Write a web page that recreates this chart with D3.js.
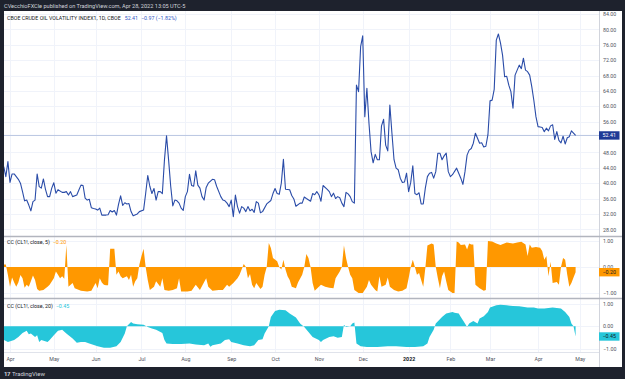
<!DOCTYPE html>
<html>
<head>
<meta charset="utf-8">
<script src="https://cdn.jsdelivr.net/npm/d3@7"></script>
<style>
  html, body { margin: 0; padding: 0; background: #1e222d; }
  svg { display: block; font-family: Roboto, "DejaVu Sans", sans-serif; }
</style>
</head>
<body>
<svg id="chart" width="625" height="379"></svg>
<script>
// trading day (0 = Apr 1 2021), close
const ovxSeries = [
  [-3,44.3],[-2,41.7],[-1,45.6],[0,40.2],[1,42.4],[2,42.4],[4,41.0],[5,40.0],[6,37.8],[7,35.4],
  [8,35.6],[9,34.3],[10,32.8],[11,35.2],[12,35.6],[13,42.4],[14,39.1],[15,38.7],[16,41.1],[17,38.4],
  [18,36.5],[19,36.5],[20,38.7],[21,40.1],[22,37.4],[23,38.3],[25,37.6],[26,37.6],[27,37.8],[28,36.9],
  [29,37.8],[30,36.5],[32,36.9],[33,38.2],[34,39.5],[35,39.4],[36,36.1],[37,35.6],[38,35.8],[39,33.6],
  [40,33.4],[41,33.3],[42,33.0],[43,33.5],[44,31.7],[46,31.7],[47,31.8],[48,32.9],[49,32.5],[50,32.9],
  [51,31.7],[52,34.5],[53,36.7],[54,34.2],[55,34.9],[56,34.6],[57,34.7],[58,32.6],[59,31.5],[61,32.0],
  [62,32.6],[64,33.0],[65,37.3],[66,42.0],[67,39.2],[68,37.3],[69,38.6],[70,35.6],[71,37.8],[72,37.8],
  [73,37.3],[74,46.0],[75,52.3],[76,46.0],[77,39.2],[78,34.1],[79,35.6],[80,35.4],[81,34.8],[82,33.5],
  [83,32.9],[84,36.5],[85,37.8],[86,42.3],[87,39.4],[88,39.2],[89,43.2],[90,39.5],[91,38.7],[92,36.5],
  [93,35.6],[94,38.9],[95,40.0],[97,41.0],[98,40.9],[99,39.2],[101,36.5],[102,35.6],[103,35.4],[104,34.8],
  [105,33.9],[106,35.6],[107,31.3],[108,36.9],[109,33.9],[110,32.2],[111,33.9],[112,33.5],[113,32.6],[114,33.9],
  [115,32.8],[116,33.2],[117,32.4],[118,35.2],[119,34.8],[120,32.3],[121,32.6],[123,34.6],[125,35.5],[126,37.3],
  [127,38.6],[128,37.3],[129,37.1],[130,40.0],[131,46.2],[132,38.4],[134,38.3],[135,36.8],[136,35.9],[137,34.0],
  [139,34.8],[140,34.8],[141,36.4],[142,36.0],[144,35.3],[145,37.3],[146,37.0],[147,37.8],[148,37.0],[149,35.3],
  [150,39.4],[152,38.4],[153,37.8],[154,36.5],[155,37.4],[156,36.0],[157,36.5],[158,36.2],[159,34.8],[160,33.9],
  [161,37.6],[162,37.2],[163,36.5],[164,35.2],[165,34.8],[166,65.5],[167,63.8],[168,75.5],[169,78.3],[170,57.3],
  [171,64.7],[172,55.6],[173,48.2],[174,45.3],[175,47.5],[176,46.1],[177,46.1],[178,54.9],[179,56.6],[180,49.9],
  [181,48.4],[182,60.3],[183,53.0],[184,46.1],[185,43.9],[186,43.5],[187,41.3],[188,40.2],[189,40.3],[190,42.6],
  [191,37.8],[192,40.2],[193,44.5],[194,37.3],[195,37.0],[196,37.5],[197,34.6],[198,34.6],[199,38.7],[200,41.7],
  [201,42.6],[202,42.8],[203,41.3],[204,43.0],[205,47.8],[206,47.8],[207,46.1],[208,47.1],[209,47.8],[210,43.0],
  [211,41.7],[212,42.2],[214,43.9],[215,42.6],[216,41.3],[217,39.7],[218,43.0],[219,47.3],[220,48.6],[221,49.0],
  [222,50.4],[223,53.0],[224,51.7],[225,50.4],[226,50.5],[227,49.4],[228,49.6],[229,52.6],[230,61.4],[231,61.6],
  [232,64.4],[233,77.2],[234,78.8],[235,76.5],[236,73.3],[237,67.7],[238,67.8],[239,65.5],[240,63.8],[241,59.5],
  [242,68.1],[243,69.4],[244,70.7],[245,69.8],[246,72.5],[247,69.4],[248,69.0],[249,68.1],[250,65.1],[251,61.5],
  [252,57.3],[253,54.7],[254,54.6],[255,54.5],[256,53.4],[257,54.3],[258,53.6],[259,54.9],[260,55.2],[261,51.4],
  [262,53.4],[263,51.1],[264,50.5],[265,52.2],[266,50.2],[267,51.8],[268,52.1],[269,53.6],[270,53.0],[271,52.41]
];

const cc5Series = [
  [-3,0.1],[-2,0.1],[-1,-0.31],[0,-0.76],[1,-0.4],[2,-0.6],[3,-0.76],[4,-0.6],[5,-0.31],[6,-0.43],
  [7,-0.8],[8,-0.68],[9,-0.76],[10,-0.55],[11,-0.33],[12,-0.5],[13,-0.85],[14,-0.91],[16,-0.88],[18,-0.76],
  [19,-0.68],[21,-0.43],[22,-0.17],[23,-0.3],[24,-0.43],[25,-0.36],[26,-0.45],[27,0.85],[28,-0.76],[30,-0.62],
  [31,-0.82],[34,-0.91],[37,-0.94],[39,-0.91],[41,-0.62],[42,-0.82],[43,-0.43],[44,-0.6],[45,-0.68],[46,-0.7],
  [47,-0.7],[48,0.7],[50,0.7],[51,-0.3],[52,-0.17],[53,-0.36],[54,-0.43],[56,-0.36],[57,-0.5],[58,-0.3],
  [59,-0.76],[60,-0.55],[61,-0.43],[62,0.1],[63,0.42],[64,0.7],[65,0],[66,-0.5],[67,-0.88],[69,-0.76],
  [70,-0.55],[72,-0.76],[73,-0.43],[74,-0.88],[76,-0.91],[78,-0.88],[80,-0.82],[81,-0.43],[82,-0.94],[85,-0.94],
  [87,-0.91],[89,-0.68],[91,-0.88],[94,-0.43],[95,-0.76],[97,-0.91],[100,-0.88],[102,-0.88],[104,-0.68],[105,-0.76],
  [107,-0.62],[109,-0.43],[110,-0.3],[112,0.12],[113,0],[114,-0.43],[115,-0.27],[116,-0.68],[117,-0.82],[118,-0.62],
  [120,-0.85],[121,-0.76],[122,-0.3],[123,0],[124,0.92],[125,0.73],[126,0.35],[128,0.22],[129,0],[130,-0.1],
  [131,0.28],[132,-0.1],[133,-0.36],[134,-0.5],[135,-0.76],[137,-0.82],[138,-0.6],[140,-0.3],[141,0],[142,0.5],
  [143,0.35],[144,0],[145,-0.62],[146,-0.91],[148,-0.76],[149,-0.68],[151,-0.76],[153,-0.8],[155,-0.82],[156,-0.43],
  [158,-0.17],[159,0],[160,0.83],[161,0.35],[162,0],[163,-0.3],[164,-0.43],[165,-0.88],[167,-1.0],[169,-1.0],
  [171,-0.76],[172,-0.5],[173,-0.68],[175,-0.88],[176,-0.94],[177,-0.36],[178,-0.76],[180,-0.68],[181,-0.4],[182,-0.76],
  [184,-0.88],[186,-0.94],[188,-0.91],[190,-0.82],[191,-0.43],[192,0],[193,0.28],[194,0],[195,-0.3],[196,-0.23],
  [197,-0.5],[198,-0.76],[199,-0.04],[200,0.83],[202,0.9],[203,0.87],[204,0],[205,-0.43],[206,-0.82],[207,-0.36],
  [208,-0.17],[209,-0.55],[210,-0.88],[212,-1.0],[213,-1.0],[214,0.98],[215,0.94],[216,0.85],[218,0.87],[219,0.67],
  [220,0.9],[221,0.87],[222,0.87],[223,-0.68],[225,-0.82],[227,-0.91],[228,-0.88],[229,1.0],[231,0.98],[233,0.9],
  [235,0.85],[238,0.94],[241,0.9],[243,0.94],[245,0.97],[247,0.87],[248,0.42],[249,0.87],[250,0.74],[252,0.77],
  [254,0.74],[255,0.62],[256,0.28],[257,0.42],[258,-0.36],[259,0.2],[260,-0.62],[262,-0.58],[263,-0.68],[264,0],
  [265,0.35],[266,0.28],[267,-0.3],[268,-0.76],[269,-0.62],[270,-0.4],[271,-0.2]
];

const cc20Series = [
  [-3,-0.6],[-1,-0.69],[2,-0.6],[4,-0.47],[6,-0.3],[8,-0.2],[9,-0.35],[10,-0.32],[12,-0.47],[13,-0.4],
  [14,-0.69],[15,-0.6],[18,-0.69],[19,-0.6],[21,-0.4],[23,-0.2],[25,-0.15],[27,-0.32],[30,-0.54],[32,-0.73],
  [34,-0.69],[36,-0.69],[38,-0.76],[42,-0.88],[45,-0.94],[48,-0.94],[51,-0.88],[53,-0.69],[55,-0.32],[56,0],
  [58,0.19],[59,0.12],[61,0.09],[64,0.07],[66,-0.03],[68,-0.1],[70,-0.15],[73,-0.3],[74,-0.6],[75,-0.76],
  [78,-0.78],[82,-0.78],[86,-0.76],[89,-0.8],[93,-0.83],[95,-0.76],[96,-0.9],[97,-0.83],[101,-0.76],[103,-0.6],
  [105,-0.57],[106,-0.69],[109,-0.76],[112,-0.83],[115,-0.88],[117,-0.83],[119,-0.6],[121,-0.57],[122,-0.32],[124,0],
  [125,0.41],[127,0.67],[129,0.73],[132,0.7],[134,0.56],[137,0.38],[139,0.12],[141,-0.03],[143,-0.25],[145,-0.47],
  [148,-0.6],[149,-0.69],[150,-0.6],[153,-0.47],[155,-0.44],[157,-0.5],[159,-0.47],[160,0.07],[161,-0.03],[163,0],
  [164,0.12],[165,0.16],[166,-0.76],[168,-0.88],[171,-0.91],[176,-0.91],[181,-0.88],[185,-0.88],[190,-0.91],[194,-0.91],
  [198,-0.88],[200,-0.76],[201,-0.47],[203,-0.15],[204,0.12],[207,0.41],[209,0.56],[212,0.63],[213,0.59],[215,0.56],
  [216,0.41],[218,0.12],[219,-0.03],[220,0.12],[222,0.23],[224,0.12],[225,0.34],[227,0.44],[229,0.63],[230,0.82],
  [233,0.92],[235,0.95],[238,0.92],[241,0.89],[244,0.88],[248,0.82],[251,0.82],[253,0.78],[256,0.78],[258,0.8],
  [260,0.82],[264,0.78],[266,0.63],[268,0.41],[269,0.12],[270,0],[271,-0.45]
];

const monthDays = [0, 21, 41, 63, 84, 106, 127, 148, 169, 191, 211, 230, 253, 273];
const monthLabels = ["Apr", "May", "Jun", "Jul", "Aug", "Sep", "Oct", "Nov", "Dec", "2022", "Feb", "Mar", "Apr", "May"];
const priceTicks = [28, 32, 36, 40, 44, 48, 56, 60, 64, 68, 72, 76, 80, 84];
const ccTicks = [1, 0, -1];
const lastClose = 52.41;
const lastCC5 = -0.20;
const lastCC20 = -0.45;

const svg = d3.select('#chart');
const plotL = 4, plotR = 599, panelR = 622;
const fmt = d3.format('.2f');
const minus = s => s.replace('-', '\u2212');

const x = d3.scaleLinear().domain([0, 271]).range([10, 575.6]);
const yMain = d3.scaleLinear().domain([28, 84]).range([229.3, 14]);
const yCC5 = d3.scaleLinear().domain([-1, 1]).range([293, 241]);
const yCC20 = d3.scaleLinear().domain([-1, 1]).range([349, 303.5]);

// frame
svg.append('rect').attr('width', 625).attr('height', 379).attr('fill', '#1e222d');
svg.append('rect').attr('x', plotL).attr('y', 11).attr('width', panelR - plotL).attr('height', 356).attr('fill', '#ffffff');

svg.append('text').text('CVecchioFXCle published on TradingView.com, Apr 28, 2022 13:05 UTC-5')
  .attr('x', 4).attr('y', 7.8).attr('fill', '#d1d4dc').style('font-size', '5.6px');

const defs = svg.append('defs');
defs.append('clipPath').attr('id', 'clipMain').append('rect')
  .attr('x', plotL).attr('y', 11).attr('width', plotR - plotL).attr('height', 225);
defs.append('clipPath').attr('id', 'clipCC5').append('rect')
  .attr('x', plotL).attr('y', 237).attr('width', plotR - plotL).attr('height', 61);
defs.append('clipPath').attr('id', 'clipCC20').append('rect')
  .attr('x', plotL).attr('y', 299).attr('width', plotR - plotL).attr('height', 53);

// grid
const grid = svg.append('g').attr('stroke', '#f0f3fa').attr('stroke-width', 1);
grid.selectAll('line.v').data(monthDays).enter().append('line')
  .attr('x1', d => Math.round(x(d)) + 0.5).attr('x2', d => Math.round(x(d)) + 0.5)
  .attr('y1', 11).attr('y2', 352);
grid.selectAll('line.h').data(priceTicks).enter().append('line')
  .attr('x1', plotL).attr('x2', plotR)
  .attr('y1', d => Math.round(yMain(d)) + 0.5).attr('y2', d => Math.round(yMain(d)) + 0.5);
grid.selectAll('line.c5').data(ccTicks).enter().append('line')
  .attr('x1', plotL).attr('x2', plotR)
  .attr('y1', d => Math.round(yCC5(d)) + 0.5).attr('y2', d => Math.round(yCC5(d)) + 0.5);
grid.selectAll('line.c20').data(ccTicks).enter().append('line')
  .attr('x1', plotL).attr('x2', plotR)
  .attr('y1', d => Math.round(yCC20(d)) + 0.5).attr('y2', d => Math.round(yCC20(d)) + 0.5);

// last price line
svg.append('line')
  .attr('x1', plotL).attr('x2', plotR)
  .attr('y1', yMain(lastClose)).attr('y2', yMain(lastClose))
  .attr('stroke', '#b9c6e2').attr('stroke-width', 1);

// OVX line
const line = d3.line().x(d => x(d[0])).y(d => yMain(d[1]));
svg.append('path').datum(ovxSeries)
  .attr('clip-path', 'url(#clipMain)')
  .attr('d', line)
  .attr('fill', 'none').attr('stroke', '#2a4ca8').attr('stroke-width', 1.1)
  .attr('stroke-linejoin', 'round');

// CC areas
const area5 = d3.area().x(d => x(d[0])).y0(yCC5(0)).y1(d => yCC5(d[1]));
svg.append('path').datum(cc5Series)
  .attr('clip-path', 'url(#clipCC5)')
  .attr('d', area5).attr('fill', '#ff9800');

const area20 = d3.area().x(d => x(d[0])).y0(yCC20(0)).y1(d => yCC20(d[1]));
svg.append('path').datum(cc20Series)
  .attr('clip-path', 'url(#clipCC20)')
  .attr('d', area20).attr('fill', '#26c6da');

// separators and borders
svg.append('line').attr('x1', plotR + 0.5).attr('x2', plotR + 0.5).attr('y1', 11).attr('y2', 367)
  .attr('stroke', '#d1d4dc');
svg.append('line').attr('x1', plotL).attr('x2', plotR).attr('y1', 352.5).attr('y2', 352.5)
  .attr('stroke', '#e0e3eb');
[236.5, 298.5].forEach(yy => {
  svg.append('line').attr('x1', plotL).attr('x2', panelR).attr('y1', yy).attr('y2', yy)
    .attr('stroke', '#b2b5be').attr('stroke-width', 1.5);
});

// axes
function styleAxis(g) {
  g.select('.domain').remove();
  g.selectAll('text').attr('fill', '#50535e').style('font-size', '5.3px').style('font-family', 'Roboto, sans-serif');
}
svg.append('g').attr('transform', `translate(${plotR},0)`)
  .call(d3.axisRight(yMain).tickValues(priceTicks).tickFormat(fmt).tickSize(0).tickPadding(4))
  .call(styleAxis);
svg.append('g').attr('transform', `translate(${plotR},0)`)
  .call(d3.axisRight(yCC5).tickValues(ccTicks).tickFormat(d => minus(fmt(d))).tickSize(0).tickPadding(4))
  .call(styleAxis);
svg.append('g').attr('transform', `translate(${plotR},0)`)
  .call(d3.axisRight(yCC20).tickValues(ccTicks).tickFormat(d => minus(fmt(d))).tickSize(0).tickPadding(4))
  .call(styleAxis);
const xAxis = svg.append('g').attr('transform', 'translate(0,352)')
  .call(d3.axisBottom(x).tickValues(monthDays).tickFormat((d, i) => monthLabels[i]).tickSize(0).tickPadding(5))
  .call(styleAxis);
xAxis.selectAll('text').filter(d => monthLabels[monthDays.indexOf(d)] === '2022')
  .attr('fill', '#131722').style('font-weight', 'bold');

// last value badges
function badge(yy, label, bg, fg) {
  svg.append('rect').attr('x', plotR).attr('y', yy - 4.2).attr('width', 20.5).attr('height', 8.4).attr('fill', bg);
  svg.append('text').text(label).attr('x', plotR + 3.6).attr('y', yy).attr('dy', '0.35em')
    .attr('fill', fg).style('font-size', '5.3px');
}
badge(yMain(lastClose), fmt(lastClose), '#1e3a96', '#ffffff');
badge(yCC5(lastCC5), minus(fmt(lastCC5)), '#ff9800', '#131722');
badge(yCC20(lastCC20), minus(fmt(lastCC20)), '#26c6da', '#131722');

// legends
const leg = svg.append('text').attr('x', 7).attr('y', 19.6).style('font-size', '5.3px');
leg.append('tspan').text('CBOE CRUDE OIL VOLATILITY INDEX1, 1D, CBOE').attr('fill', '#131722');
leg.append('tspan').text(fmt(lastClose)).attr('fill', '#2f55c4').attr('dx', 4);
leg.append('tspan').text('\u22120.97 (\u22121.82%)').attr('fill', '#2f55c4').attr('dx', 3);

const leg5 = svg.append('text').attr('x', 7).attr('y', 243.6).style('font-size', '5.3px');
leg5.append('tspan').text('CC (CL1!, close, 5)').attr('fill', '#131722');
leg5.append('tspan').text(minus(fmt(lastCC5))).attr('fill', '#ff9800').attr('dx', 3);

const leg20 = svg.append('text').attr('x', 7).attr('y', 307.6).style('font-size', '5.3px');
leg20.append('tspan').text('CC (CL1!, close, 20)').attr('fill', '#131722');
leg20.append('tspan').text(minus(fmt(lastCC20))).attr('fill', '#26c6da').attr('dx', 3);

// footer logo
const logo = svg.append('text').attr('x', 4).attr('y', 375.5).attr('fill', '#d1d4dc').style('font-size', '6px');
logo.append('tspan').text('17').style('font-weight', 'bold').style('letter-spacing', '-0.5px');
logo.append('tspan').text('TradingView').attr('dx', 2);
</script>
</body>
</html>
